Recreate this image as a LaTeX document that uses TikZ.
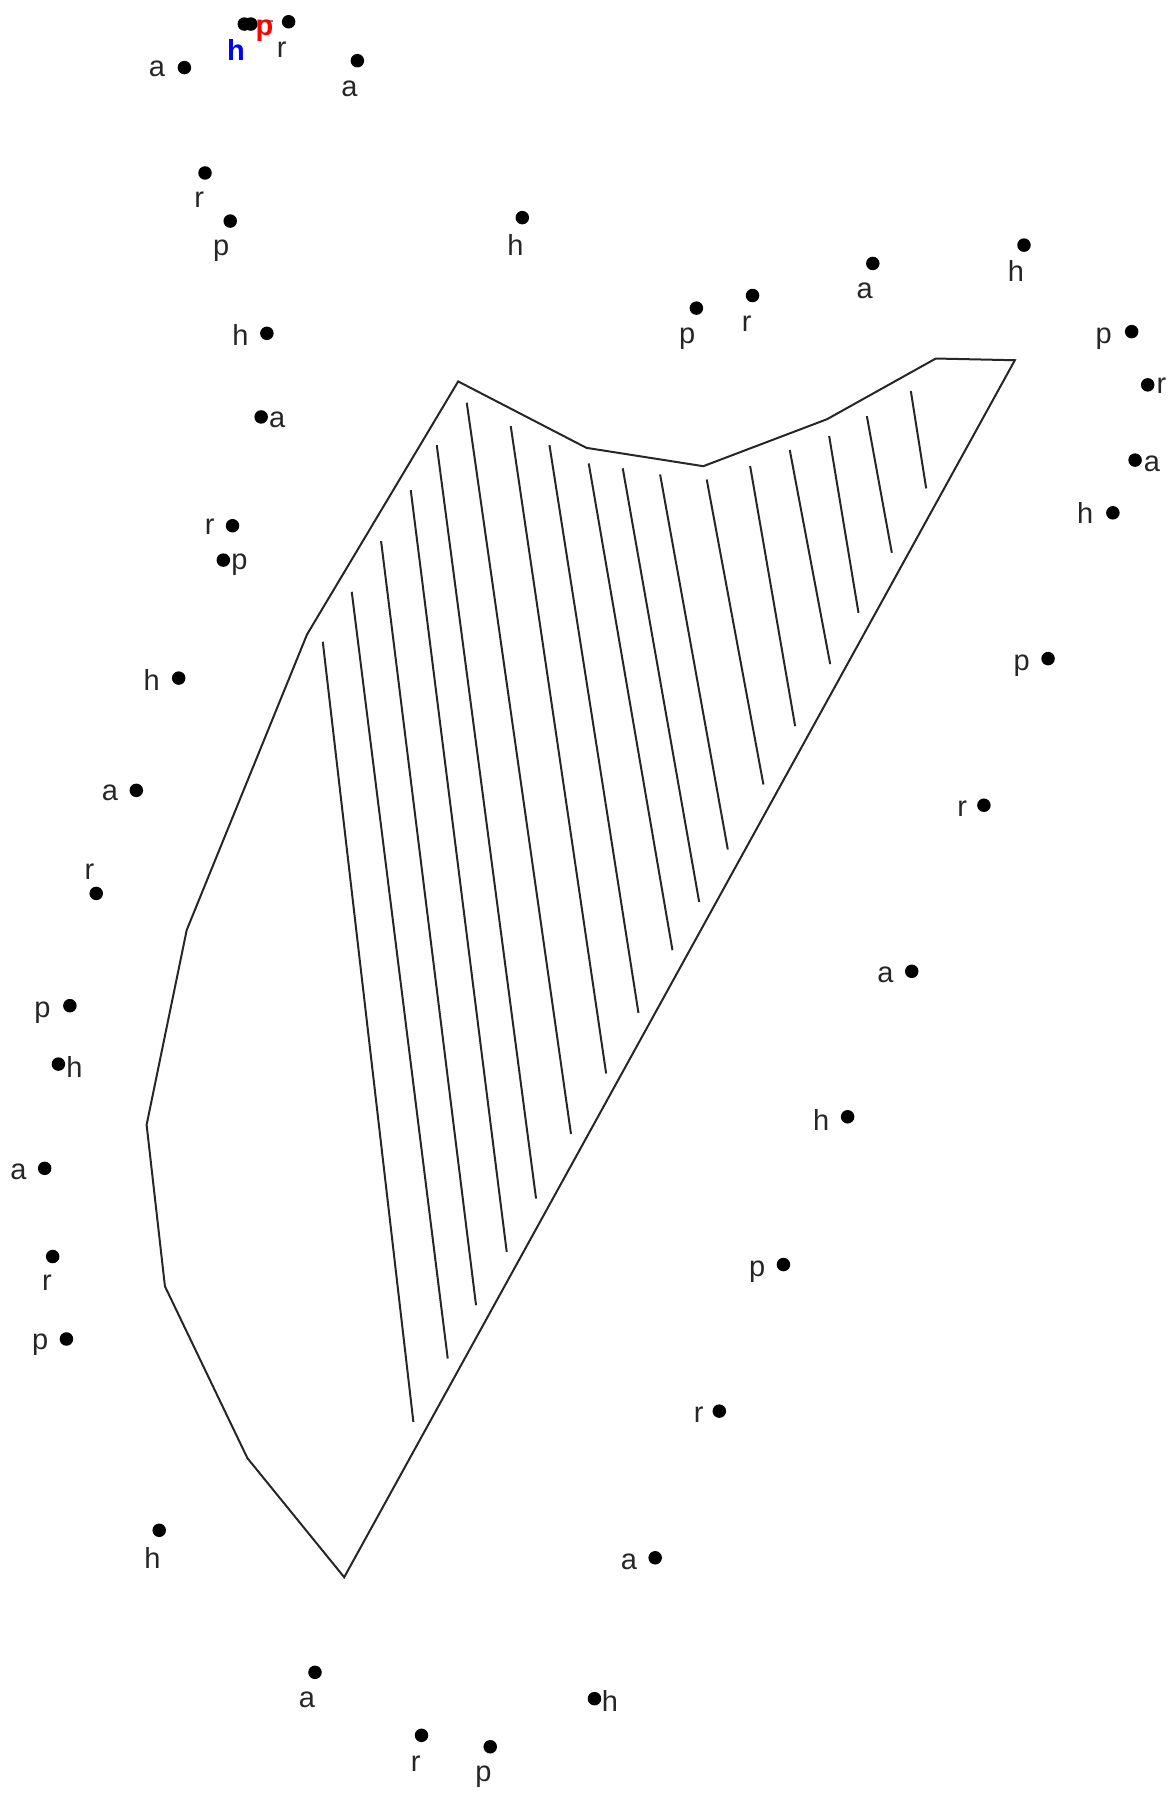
\documentclass[tikz,border=0pt]{standalone}
\usepackage{fontspec}
\setmainfont{Liberation Sans}
\newcommand\lbfont{\fontsize{29}{32}\selectfont}
\begin{document}
\begin{tikzpicture}[x=1.1452pt,y=-1.1452pt,
  dotpt/.style={circle, fill=black, inner sep=0pt, minimum size=13.5pt},
  lbl/.style={font=\lbfont, text=black!85, inner sep=0pt, anchor=base},
  rim/.style={line width=2pt, black!85, line join=miter},
  hatchline/.style={line width=2pt, black!85}]
\useasboundingbox (0,0) rectangle (1026,1568);
% polygon
\coordinate (v1) at (400,333);
\coordinate (v2) at (512,391);
\coordinate (v3) at (614,407);
\coordinate (v4) at (722,366);
\coordinate (v5) at (817,313);
\coordinate (v6) at (886,314.5);
\coordinate (v7) at (300.5,1377);
\coordinate (v8) at (216,1273);
\coordinate (v9) at (144,1123);
\coordinate (v10) at (128,982);
\coordinate (v11) at (163,812);
\coordinate (v12) at (268,554);
\draw[rim] (v1) -- (v2) -- (v3) -- (v4) -- (v5) -- (v6) -- (v7) -- (v8) -- (v9) -- (v10) -- (v11) -- (v12) -- cycle;
% hatching
\foreach \i/\xa/\ya/\xb/\yb in {
 1/281.8/560.3/360.9/1241.4,
 2/307.1/516.7/390.9/1186.1,
 3/332.7/472.4/415.6/1139.5,
 4/358.6/427.9/442.4/1093,
 5/381.3/388.6/468/1046.4,
 6/407.5/351.6/498.5/990,
 7/445.9/372/529.2/937.2,
 8/479.7/388.6/557.4/884.3,
 9/514/404.6/587.1/829.6,
 10/543.7/408.9/610.4/787.4,
 11/576.3/414.2/635.4/741.6,
 12/617/418.6/666.5/684.9,
 13/654.9/406.9/694.2/634,
 14/689.5/392.9/724.8/579.8,
 15/723.9/380.7/749.5/535,
 16/756.8/363.3/778.6/482.6,
 17/795.2/341.4/808.6/426.4}{
  \coordinate (hs\i) at (\xa,\ya);
  \coordinate (he\i) at (\xb,\yb);
  \draw[hatchline] (hs\i) -- (he\i);
}
% points with labels
\foreach \i/\dx/\dy/\t/\lx/\ly in {
 1/161/59/a/137/67,
 2/312/53/a/305/84,
 3/252/19/r/246/50,
 5/179/151/r/174/181,
 6/201/193/p/193/223,
 7/456/190/h/450/223,
 8/762/230/a/755/261,
 9/894/214/h/887/246,
 10/608/269/p/600/300,
 11/657/258/r/652/289,
 12/988/289.5/p/963.5/299.5,
 13/1002/336/r/1014/343.5,
 14/991/401.7/a/1005.6/411.5,
 15/971.6/447.7/h/947.4/457,
 16/233/291/h/210/302,
 17/228/364/a/242/373,
 18/203/459/r/183/467,
 19/195/489/p/209/497,
 20/156/592/h/132.5/602.5,
 21/119/690/a/96/699,
 22/84/780/r/78/768,
 23/61/878/p/37/888,
 24/51/929/h/65/940.5,
 25/39/1020/a/16/1030,
 26/46/1097/r/41/1127,
 27/58/1169/p/35/1178,
 28/139/1336/h/133/1369,
 29/275/1460/a/268/1491,
 30/368/1515/r/363/1546.5,
 31/428/1525/p/422/1555.5,
 32/519/1483/h/532.5/1494.5,
 33/572/1360/a/549/1370,
 34/628/1232/r/610/1242,
 35/684/1104/p/661/1114,
 36/740/975/h/717/987,
 37/796/848/a/773/858,
 38/859/703/r/840/713,
 39/915/575/p/892/585}{
  \node[dotpt] (d\i) at (\dx,\dy) {};
  \node[lbl] (l\i) at (\lx,\ly) {\t};
}
% top cluster
\node[dotpt] (d4a) at (213.3,21) {};
\node[dotpt] (d4b) at (219,21) {};
\coordinate (gb1) at (225,18.5);
\coordinate (gb2) at (238,18.5);
\draw[gray, line width=2.5pt] (gb1) -- (gb2);
\node[lbl, text=blue, font=\lbfont\bfseries] (l4h) at (206,52.5) {h};
\node[lbl, text=red, font=\lbfont\bfseries] (l4p) at (231,31) {p};
\end{tikzpicture}
\end{document}
